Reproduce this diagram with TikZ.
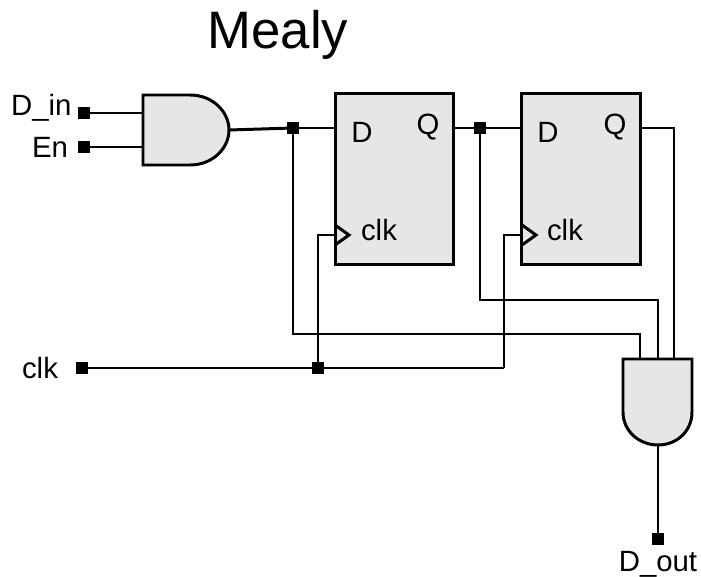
\documentclass[tikz,border=0pt]{standalone}
\usepackage{fontspec}
\setmainfont{Liberation Sans}
\usetikzlibrary{calc}
\usetikzlibrary{positioning}
\definecolor{gatefill}{HTML}{E6E6E6}

\begin{document}
\begin{tikzpicture}[
	x=0.02cm, y=-0.02cm,
	line width=1.7pt,
	dot/.style = {draw,fill=black,rectangle,inner sep=0pt,minimum size=0.22cm,line width=0pt},
	flop/.style = {draw,fill=gatefill,rectangle,inner sep=0pt,minimum width=2.38cm,minimum height=3.44cm},
	gate/.style = {draw,fill=gatefill,line join=miter},
	txt/.style = {inner sep=0pt,font=\fontsize{16.7}{16.7}\selectfont}
	]
	\useasboundingbox (0,0) rectangle (701,577);

	\node[inner sep=0pt,font=\fontsize{30}{30}\selectfont] (title) at (278,35) {Mealy};

	% flip flops
	\node[flop] (@ffa) at (394.5,179) {};
	\node[flop] (@ffb) at (581,179) {};

	\node[txt] (@da) at (362,132) {D};
	\node[txt] (@qa) at (428,127) {Q};
	\node[txt] (@ca) at (379,230) {clk};
	\node[txt] (@db) at (548,132) {D};
	\node[txt] (@qb) at (615,127) {Q};
	\node[txt] (@cb) at (565,230) {clk};

	\coordinate (@cka) at (335,235);
	\coordinate (@ckb) at (522,235);
	\draw (335,225) -- (349,235) -- (335,245);
	\draw (522,225) -- (536,235) -- (522,245);

	% gates
	\draw[gate] (143,95) -- (190,95) .. controls (213,95) and (229,112) .. (229,130)
		.. controls (229,148) and (213,165) .. (190,165) -- (143,165) -- cycle;
	\draw[gate] (623,359) -- (692,359) -- (692,412) .. controls (692,431) and (677,445) .. (658,445)
		.. controls (639,445) and (623,431) .. (623,412) -- cycle;

	\coordinate (@a1) at (143,113);
	\coordinate (@a2) at (143,147);
	\coordinate (@ao) at (229,130);
	\coordinate (@b1) at (640,359);
	\coordinate (@b2) at (658,359);
	\coordinate (@b3) at (674,359);
	\coordinate (@bo) at (658,445);
	\coordinate (@ce) at (504,368);

	% pins and junctions
	\node[dot] (@in) at (84,113) {};
	\node[dot] (@en) at (84,147) {};
	\node[dot] (@clk) at (82,368) {};
	\node[dot] (@out) at (658,539) {};
	\node[dot] (@j1) at (293,128) {};
	\node[dot] (@j2) at (480,128) {};
	\node[dot] (@j3) at (318,368) {};

	\node[txt,anchor=east] (@lin) at (73,108) {D\_in};
	\node[txt] (@len) at (50,147) {En};
	\node[txt] (@lclk) at (40,368) {clk};
	\node[txt] (@lout) at (658,564) {D\_out};

	% wires
	\draw (@in) -- (@a1);
	\draw (@en) -- (@a2);
	\draw (@ao) -- (@j1);
	\draw (@j1) -- (@j1 -| @ffa.west);
	\draw (@ffa.east |- @j2) -- (@j2);
	\draw (@j2) -- (@j2 -| @ffb.west);
	\draw (@ffb.east |- @j2) -- (@b3 |- @j2) -- (@b3);
	\draw (@j1) |- (@b1 |- 0,334) -- (@b1);
	\draw (@j2) |- (@b2 |- 0,300) -- (@b2);
	\draw (@clk) -- (@ce);
	\draw (@j3) |- (@cka);
	\draw (@ce) |- (@ckb);
	\draw (@bo) -- (@out);

\end{tikzpicture}
\end{document}
